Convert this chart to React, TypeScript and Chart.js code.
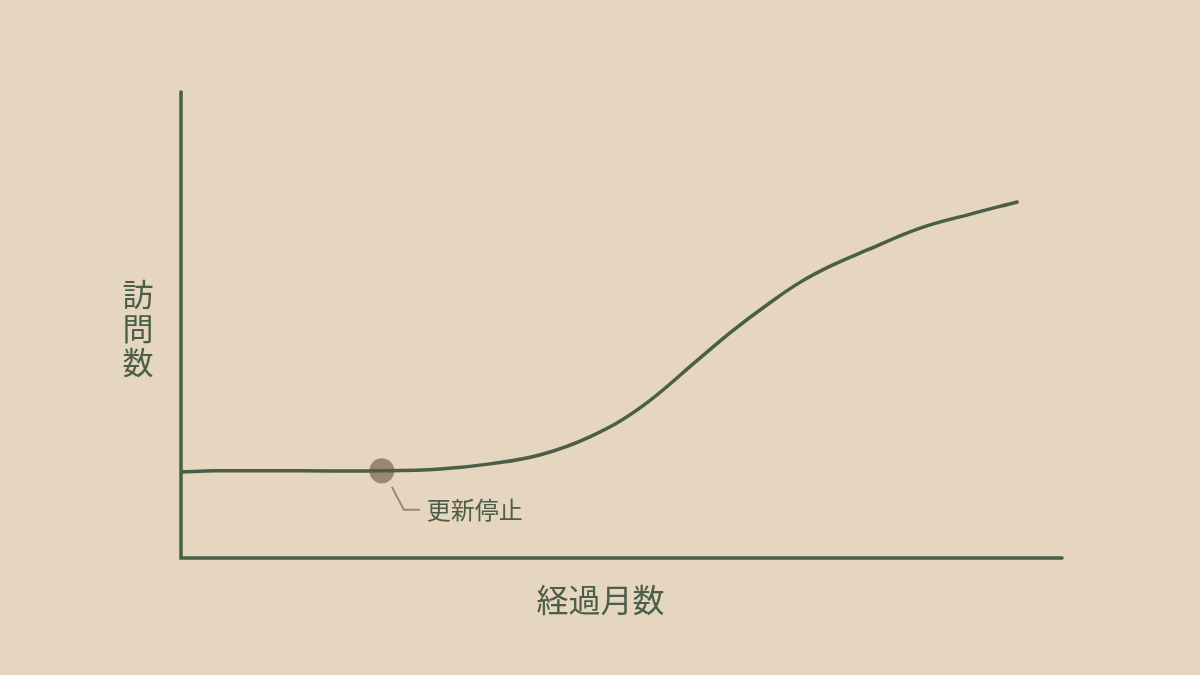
import React, { useEffect, useRef } from "react";
import { Chart, registerables } from "chart.js";

Chart.register(...registerables);

// Elapsed months (scaled 0–100) and visits (scaled 0–100)
const months = [0, 3.9, 13.5, 22.8, 29.4, 35.1, 40.7, 46.4, 52.1, 58.9, 62.7, 66.5, 70.3, 74.0, 77.9, 83.9, 89.6, 94.9];
const visits = [18.5, 18.7, 18.7, 18.7, 19.1, 20.2, 22.1, 26.0, 32.2, 42.9, 48.9, 54.3, 59.2, 62.9, 66.1, 70.8, 73.8, 76.4];

const stopMonth = [22.8];
const stopVisits = [18.7];
const stopLabel = "更新停止";

const xTitle = "経過月数";
const yTitle = ["訪", "問", "数"];

const BG = "#E6D5BF";
const GREEN = "#4A5E48";
const MARK = "#9A8672";
const FONT = '"Noto Sans CJK JP", "Noto Sans", sans-serif';

export default function App() {
  const ref = useRef<HTMLCanvasElement | null>(null);

  useEffect(() => {
    document.body.style.margin = "0";
    document.body.style.background = BG;
    const canvas = ref.current;
    if (!canvas) return;

    const deco = {
      id: "deco",
      beforeDatasetsDraw(chart: any) {
        const { ctx, chartArea } = chart;
        const { left, right, top, bottom } = chartArea;
        ctx.save();
        ctx.strokeStyle = GREEN;
        ctx.lineWidth = 3.5;
        ctx.lineCap = "round";
        ctx.beginPath();
        ctx.moveTo(left, top);
        ctx.lineTo(left, bottom);
        ctx.lineTo(right, bottom);
        ctx.stroke();

        ctx.fillStyle = GREEN;
        ctx.textAlign = "center";
        ctx.textBaseline = "middle";
        ctx.font = `31px ${FONT}`;
        const cx = left - 43;
        const cy = (top + bottom) / 2 + 3;
        yTitle.forEach((ch, i) => {
          ctx.fillText(ch, cx, cy + (i - 1) * 34);
        });
        ctx.font = `32px ${FONT}`;
        ctx.fillText(xTitle, (left + right) / 2 - 21, bottom + 42);
        ctx.restore();
      },
      afterDatasetsDraw(chart: any) {
        const { ctx } = chart;
        const px = chart.scales.x.getPixelForValue(stopMonth[0]);
        const py = chart.scales.y.getPixelForValue(stopVisits[0]);
        ctx.save();
        ctx.strokeStyle = MARK;
        ctx.lineWidth = 2;
        ctx.beginPath();
        ctx.moveTo(px + 10, py + 16);
        ctx.lineTo(px + 22, py + 39);
        ctx.lineTo(px + 38, py + 39);
        ctx.stroke();
        ctx.fillStyle = GREEN;
        ctx.font = `24px ${FONT}`;
        ctx.textAlign = "left";
        ctx.textBaseline = "middle";
        ctx.fillText(stopLabel, px + 45, py + 39);
        ctx.restore();
      },
    };

    const chart = new Chart(canvas, {
      type: "line",
      data: {
        datasets: [
          {
            data: months.map((m, i) => ({ x: m, y: visits[i] })),
            borderColor: GREEN,
            borderWidth: 3.5,
            pointRadius: 0,
            tension: 0.4,
            fill: false,
            borderCapStyle: "round",
          },
          {
            data: stopMonth.map((m, i) => ({ x: m, y: stopVisits[i] })),
            showLine: false,
            pointRadius: 12.5,
            pointBackgroundColor: MARK,
            pointBorderWidth: 0,
            borderColor: MARK,
          },
        ],
      },
      options: {
        responsive: false,
        animation: false,
        layout: { padding: { left: 181, right: 138, top: 92, bottom: 117 } },
        plugins: { legend: { display: false }, tooltip: { enabled: false } },
        scales: {
          x: { type: "linear", min: 0, max: 100, display: false },
          y: { type: "linear", min: 0, max: 100, display: false },
        },
      },
      plugins: [deco],
    });
    return () => chart.destroy();
  }, []);

  return (
    <div style={{ width: 1200, height: 675, background: BG }}>
      <canvas ref={ref} width={1200} height={675} style={{ display: "block" }} />
    </div>
  );
}
